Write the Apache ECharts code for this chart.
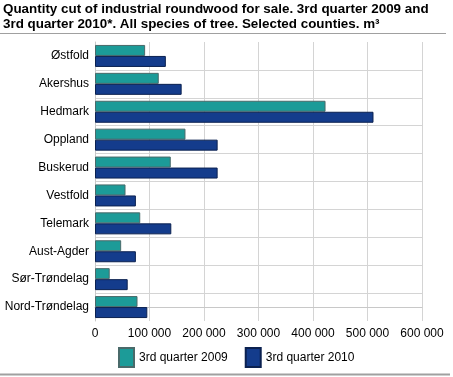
<!DOCTYPE html>
<html>
<head>
<meta charset="utf-8">
<script src="https://cdn.jsdelivr.net/npm/echarts@6/dist/echarts.min.js"></script>
<style>
html,body{margin:0;padding:0;background:#fff;}
#chart{width:453px;height:377px;}
</style>
</head>
<body>
<div id="chart"></div>
<script>
const categories = ['Østfold','Akershus','Hedmark','Oppland','Buskerud','Vestfold','Telemark','Aust-Agder','Sør-Trøndelag','Nord-Trøndelag'];
const q2009 = [92000, 117000, 423000, 166000, 139000, 56000, 83000, 48000, 27000, 78000];
const q2010 = [130000, 159000, 511000, 225000, 225000, 75000, 140000, 75000, 60000, 96000];
const seriesNames = ['3rd quarter 2009', '3rd quarter 2010'];
const xTicks = {min: 0, max: 600000, interval: 100000};

const chart = echarts.init(document.getElementById('chart'), null, {renderer: 'canvas'});
const font = 'Arial';
chart.setOption({
  animation: false,
  textStyle: {fontFamily: font},
  title: {
    text: 'Quantity cut of industrial roundwood for sale. 3rd quarter 2009 and\n3rd quarter 2010*. All species of tree. Selected counties. m³',
    left: 3, top: 2, padding: 0,
    textStyle: {fontSize: 13.4, fontWeight: 'bold', fontStyle: 'normal', color: '#000', lineHeight: 15, fontFamily: font}
  },
  graphic: [
    {type: 'line', shape: {x1: 0, y1: 33.5, x2: 446, y2: 33.5}, style: {stroke: '#a0a0a0', lineWidth: 1}, silent: true},
    {type: 'line', shape: {x1: 0, y1: 374.5, x2: 450, y2: 374.5}, style: {stroke: '#a0a0a0', lineWidth: 2}, silent: true}
  ],
  legend: {
    top: 347, left: 118, padding: 0,
    icon: 'rect',
    itemWidth: 15, itemHeight: 19, itemGap: 17,
    textStyle: {fontSize: 12, color: '#000', fontFamily: font},
    data: seriesNames
  },
  grid: {left: 95, right: 31, top: 42, bottom: 56, containLabel: false},
  xAxis: {
    type: 'value', min: xTicks.min, max: xTicks.max, interval: xTicks.interval,
    axisLine: {show: true, lineStyle: {color: '#c8c8c8'}},
    axisTick: {show: false},
    axisLabel: {fontSize: 12, color: '#000', margin: 7,
      formatter: v => v === 0 ? '0' : String(v).replace(/\B(?=(\d{3})+(?!\d))/g, ' ')},
    splitLine: {show: true, lineStyle: {color: '#d4d4d4', width: 1}}
  },
  yAxis: [
    {
      type: 'category', data: categories, inverse: true,
      axisLine: {show: true, lineStyle: {color: '#c8c8c8'}},
      axisTick: {show: false},
      axisLabel: {fontSize: 12, color: '#000', margin: 6},
      splitLine: {show: false}
    },
    {
      type: 'value', min: -0.5, max: 9.5, interval: 1, position: 'left',
      axisLine: {show: false}, axisTick: {show: false}, axisLabel: {show: false},
      splitLine: {show: true, showMinLine: false, showMaxLine: false, lineStyle: {color: '#d4d4d4', width: 1}}
    }
  ],
  series: [
    {
      name: seriesNames[0], type: 'bar', data: q2009, yAxisIndex: 0,
      barWidth: 11, barGap: '0%',
      itemStyle: {color: '#1c9b98', borderColor: '#4a6a6a', borderWidth: 1}
    },
    {
      name: seriesNames[1], type: 'bar', data: q2010, yAxisIndex: 0,
      barWidth: 11, barGap: '0%',
      itemStyle: {color: '#143c8c', borderColor: '#0b2150', borderWidth: 1}
    }
  ]
});
</script>
</body>
</html>
